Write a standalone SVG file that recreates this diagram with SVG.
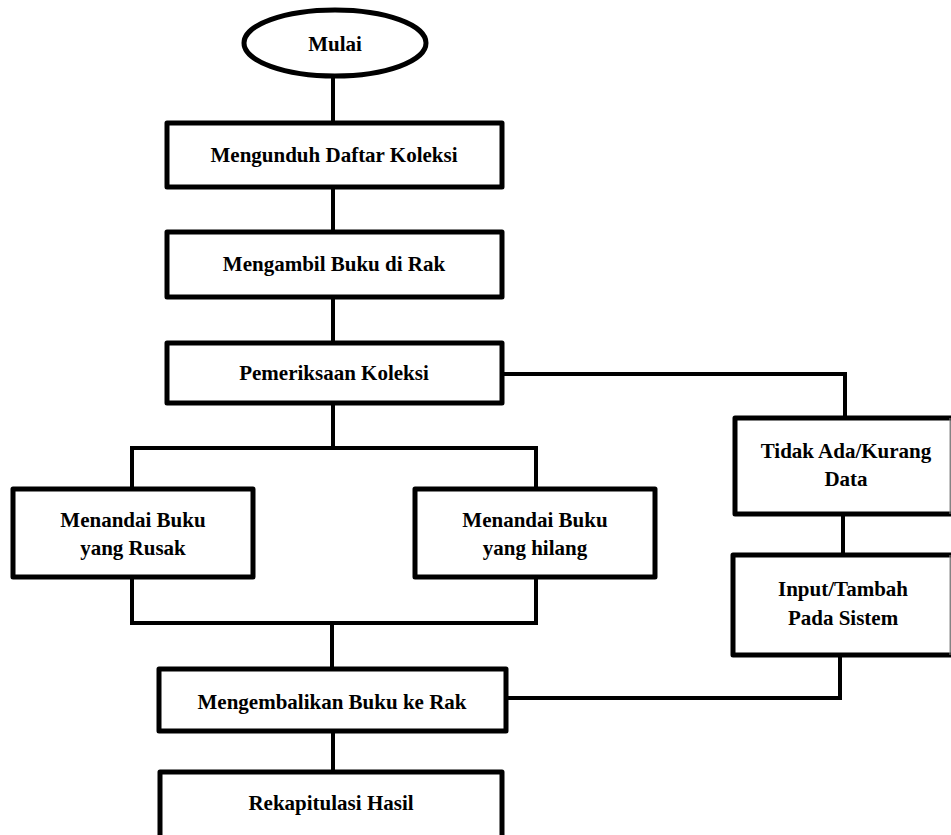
<svg xmlns="http://www.w3.org/2000/svg" width="951" height="835" viewBox="0 0 951 835">
<style>
.box{fill:#fff;stroke:#000;stroke-width:5;stroke-linejoin:round}
.cn{fill:none;stroke:#000;stroke-width:4;stroke-linejoin:miter}
.t{font-family:'Liberation Serif','Times New Roman',serif;font-weight:700;font-size:21px;fill:#000;text-anchor:middle}
</style>
<rect width="951" height="835" fill="#fff"/>
<g id="connectors">
<line class="cn" x1="333" y1="77" x2="333" y2="123"/>
<line class="cn" x1="333" y1="187" x2="333" y2="232"/>
<line class="cn" x1="333" y1="297" x2="333" y2="343"/>
<polyline class="cn" points="502,374 845,374 845,418"/>
<line class="cn" x1="333" y1="403" x2="333" y2="448"/>
<polyline class="cn" points="132,489 132,448 536,448 536,489"/>
<polyline class="cn" points="132,577 132,623 536,623 536,577"/>
<line class="cn" x1="332" y1="623" x2="332" y2="669"/>
<line class="cn" x1="843" y1="514" x2="843" y2="555"/>
<polyline class="cn" points="840,655 840,698 506,698"/>
<line class="cn" x1="333" y1="731" x2="333" y2="772"/>
</g>
<g id="mulai">
<ellipse cx="335" cy="43" rx="91" ry="33" fill="#fff" stroke="#000" stroke-width="5"/>
<text class="t" x="335" y="51">Mulai</text>
</g>
<g id="mengunduh">
<rect class="box" x="167" y="123" width="335" height="64"/>
<text class="t" x="334" y="162">Mengunduh Daftar Koleksi</text>
</g>
<g id="mengambil">
<rect class="box" x="167" y="232" width="335" height="65"/>
<text class="t" x="334" y="271">Mengambil Buku di Rak</text>
</g>
<g id="pemeriksaan">
<rect class="box" x="167" y="343" width="335" height="60"/>
<text class="t" x="334" y="380">Pemeriksaan Koleksi</text>
</g>
<g id="rusak">
<rect class="box" x="13" y="489" width="240" height="88"/>
<text class="t" x="133" y="527">Menandai Buku</text>
<text class="t" x="133" y="555">yang Rusak</text>
</g>
<g id="hilang">
<rect class="box" x="415" y="489" width="240" height="88"/>
<text class="t" x="535" y="527">Menandai Buku</text>
<text class="t" x="535" y="555">yang hilang</text>
</g>
<g id="tidakada">
<rect class="box" x="735" y="418" width="218" height="96"/>
<line x1="950" y1="418" x2="950" y2="514" stroke="#888" stroke-width="1"/>
<text class="t" x="846" y="458">Tidak Ada/Kurang</text>
<text class="t" x="846" y="486">Data</text>
</g>
<g id="input">
<rect class="box" x="733" y="555" width="220" height="100"/>
<line x1="950" y1="555" x2="950" y2="655" stroke="#888" stroke-width="1"/>
<text class="t" x="843" y="596">Input/Tambah</text>
<text class="t" x="843" y="625">Pada Sistem</text>
</g>
<g id="mengembalikan">
<rect class="box" x="159" y="669" width="347" height="62"/>
<text class="t" x="332" y="709">Mengembalikan Buku ke Rak</text>
</g>
<g id="rekapitulasi">
<rect class="box" x="160" y="772" width="342" height="70"/>
<text class="t" x="331" y="810">Rekapitulasi Hasil</text>
</g>
</svg>
